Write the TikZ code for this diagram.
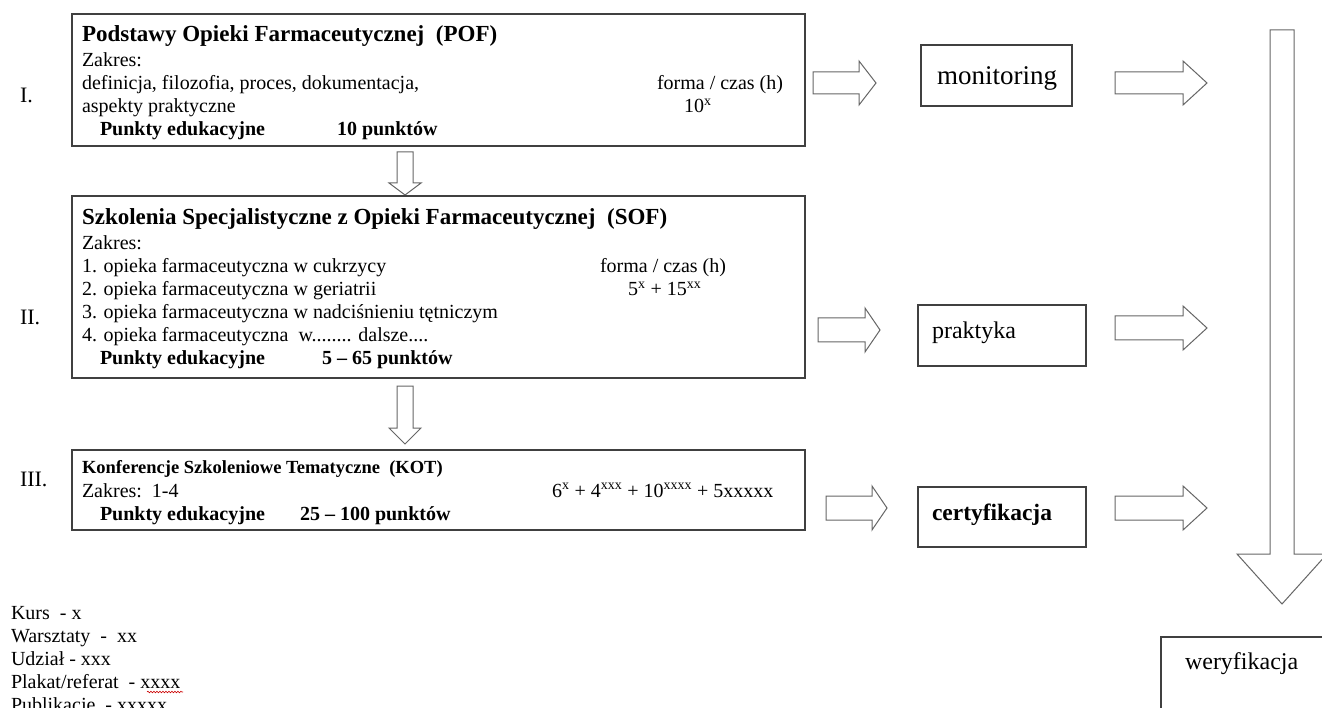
\documentclass[tikz,border=0pt]{standalone}
\usepackage{fontspec}
\setmainfont{Liberation Serif}
\usetikzlibrary{decorations.pathmorphing}
\tikzset{
  every node/.style={inner sep=0pt, outer sep=0pt},
  bigbox/.style={draw=black!75, line width=1.3pt},
  smallbox/.style={draw=black!75, line width=1.3pt},
  blockarr/.style={draw=black!60, line width=1pt, fill=white, line join=miter},
  txt/.style={anchor=base west, font=\fontsize{20}{23}\selectfont},
  ttl/.style={anchor=base west, font=\fontsize{23}{26}\selectfont\bfseries},
  pkt/.style={anchor=base west, font=\fontsize{20}{23}\selectfont\bfseries},
  roman/.style={anchor=base west, font=\fontsize{22}{24}\selectfont},
  lbl/.style={anchor=base west, font=\fontsize{24}{26}\selectfont},
  leg/.style={anchor=base west, font=\fontsize{20}{23}\selectfont},
}
% right block arrow: tail x, head-base x, tip x, centre y, shaft half, head half
\newcommand\rblock[6]{\draw[blockarr] (#1,#4-#5) -- (#2,#4-#5) -- (#2,#4-#6) -- (#3,#4) -- (#2,#4+#6) -- (#2,#4+#5) -- (#1,#4+#5) -- cycle;}
% down block arrow: centre x, top y, head-base y, tip y, shaft half, head half
\newcommand\dblock[6]{\draw[blockarr] (#1-#5,#2) -- (#1+#5,#2) -- (#1+#5,#3) -- (#1+#6,#3) -- (#1,#4) -- (#1-#6,#3) -- (#1-#5,#3) -- cycle;}
\begin{document}
\begin{tikzpicture}[x=1pt,y=-1pt]
\useasboundingbox (0,0) rectangle (1322,708);
\fill[white] (0,0) rectangle (1322,708);

% ---------- box I ----------
\draw[bigbox] (72,14) rectangle (805,146);
\node[ttl] (t1) at (82,42) {Podstawy Opieki Farmaceutycznej\ \ (POF)};
\node[txt] at (82,67) {Zakres:};
\node[txt] at (82,90) {definicja, filozofia, proces,\ dokumentacja,};
\node[txt] at (657,90) {forma / czas (h)};
\node[txt] at (82,113) {aspekty praktyczne};
\node[txt] at (684,113) {10\textsuperscript{x}};
\node[pkt] at (100,136) {Punkty edukacyjne};
\node[pkt] at (337,136) {10 punktów};

\dblock{405}{152}{183}{195}{8}{16}

% ---------- box II ----------
\draw[bigbox] (72,196) rectangle (805,378);
\node[ttl] (t2) at (82,225) {Szkolenia Specjalistyczne z Opieki Farmaceutycznej\ \ (SOF)};
\node[txt] at (82,250) {Zakres:};
\node[txt] at (82,273) {1. opieka farmaceutyczna w cukrzycy};
\node[txt] at (600,273) {forma / czas (h)};
\node[txt] at (82,296) {2. opieka farmaceutyczna w geriatrii};
\node[txt] at (628,296) {5\textsuperscript{x} + 15\textsuperscript{xx}};
\node[txt] at (82,319) {3. opieka farmaceutyczna w nadciśnieniu tętniczym};
\node[txt] at (82,342) {4. opieka farmaceutyczna\ \ w........ dalsze....};
\node[pkt] at (100,365) {Punkty edukacyjne};
\node[pkt] at (322,365) {5 – 65 punktów};

\dblock{405}{386}{428}{444}{8}{16}

% ---------- box III ----------
\draw[bigbox] (72,450) rectangle (805,530);
\node[ttl, font=\fontsize{18.5}{21}\selectfont\bfseries] (t3) at (82,473) {Konferencje Szkoleniowe Tematyczne\ \ (KOT)};
\node[txt] at (82,497) {Zakres:\ \ 1-4};
\node[txt] at (552,497) {6\textsuperscript{x} + 4\textsuperscript{xxx} + 10\textsuperscript{xxxx} + 5xxxxx};
\node[pkt] at (100,520) {Punkty edukacyjne};
\node[pkt] at (300,520) {25 – 100 punktów};

% roman numerals
\node[roman] at (20,103) {I.};
\node[roman] at (20,325) {II.};
\node[roman] at (20,486) {III.};

% ---------- right column ----------
\rblock{813}{859}{876}{83}{11}{22}
\draw[smallbox] (921,45) rectangle (1072,106);
\node[lbl, font=\fontsize{27}{29}\selectfont] (mon) at (937,85) {monitoring};
\rblock{1115}{1183}{1207}{83}{11}{22}

\rblock{818}{865}{880}{330}{12}{22}
\draw[smallbox] (918,305) rectangle (1086,366);
\node[lbl] (pra) at (932,338) {praktyka};
\rblock{1115}{1183}{1207}{328}{12}{22}

\rblock{826}{872}{887}{508}{12}{22}
\draw[smallbox] (918,487) rectangle (1086,547);
\node[lbl, font=\fontsize{23.5}{26}\selectfont\bfseries] (cer) at (932,520) {certyfikacja};
\rblock{1115}{1183}{1207}{508}{12}{22}

% big down arrow
\draw[blockarr] (1270,30) -- (1294,30) -- (1294,554) -- (1327,554) -- (1282,604) -- (1237,554) -- (1270,554) -- cycle;

\draw[smallbox] (1161,712) -- (1161,637) -- (1330,637);
\node[lbl] (wer) at (1185,669) {weryfikacja};

% legend
\node[leg] at (11,619) {Kurs\ \ - x};
\node[leg] at (11,642) {Warsztaty\ \ -\ \ xx};
\node[leg] at (11,665) {Udział\ - xxx};
\node[leg] (plk) at (11,688) {Plakat/referat\ \ - xxxx};
\node[leg] at (11,711) {Publikacje\ \ - xxxxx};
\draw[red!80!black, line width=0.6pt, decorate, decoration={snake, amplitude=0.8pt, segment length=3pt}] (147,692) -- (183,692);
\end{tikzpicture}
\end{document}
